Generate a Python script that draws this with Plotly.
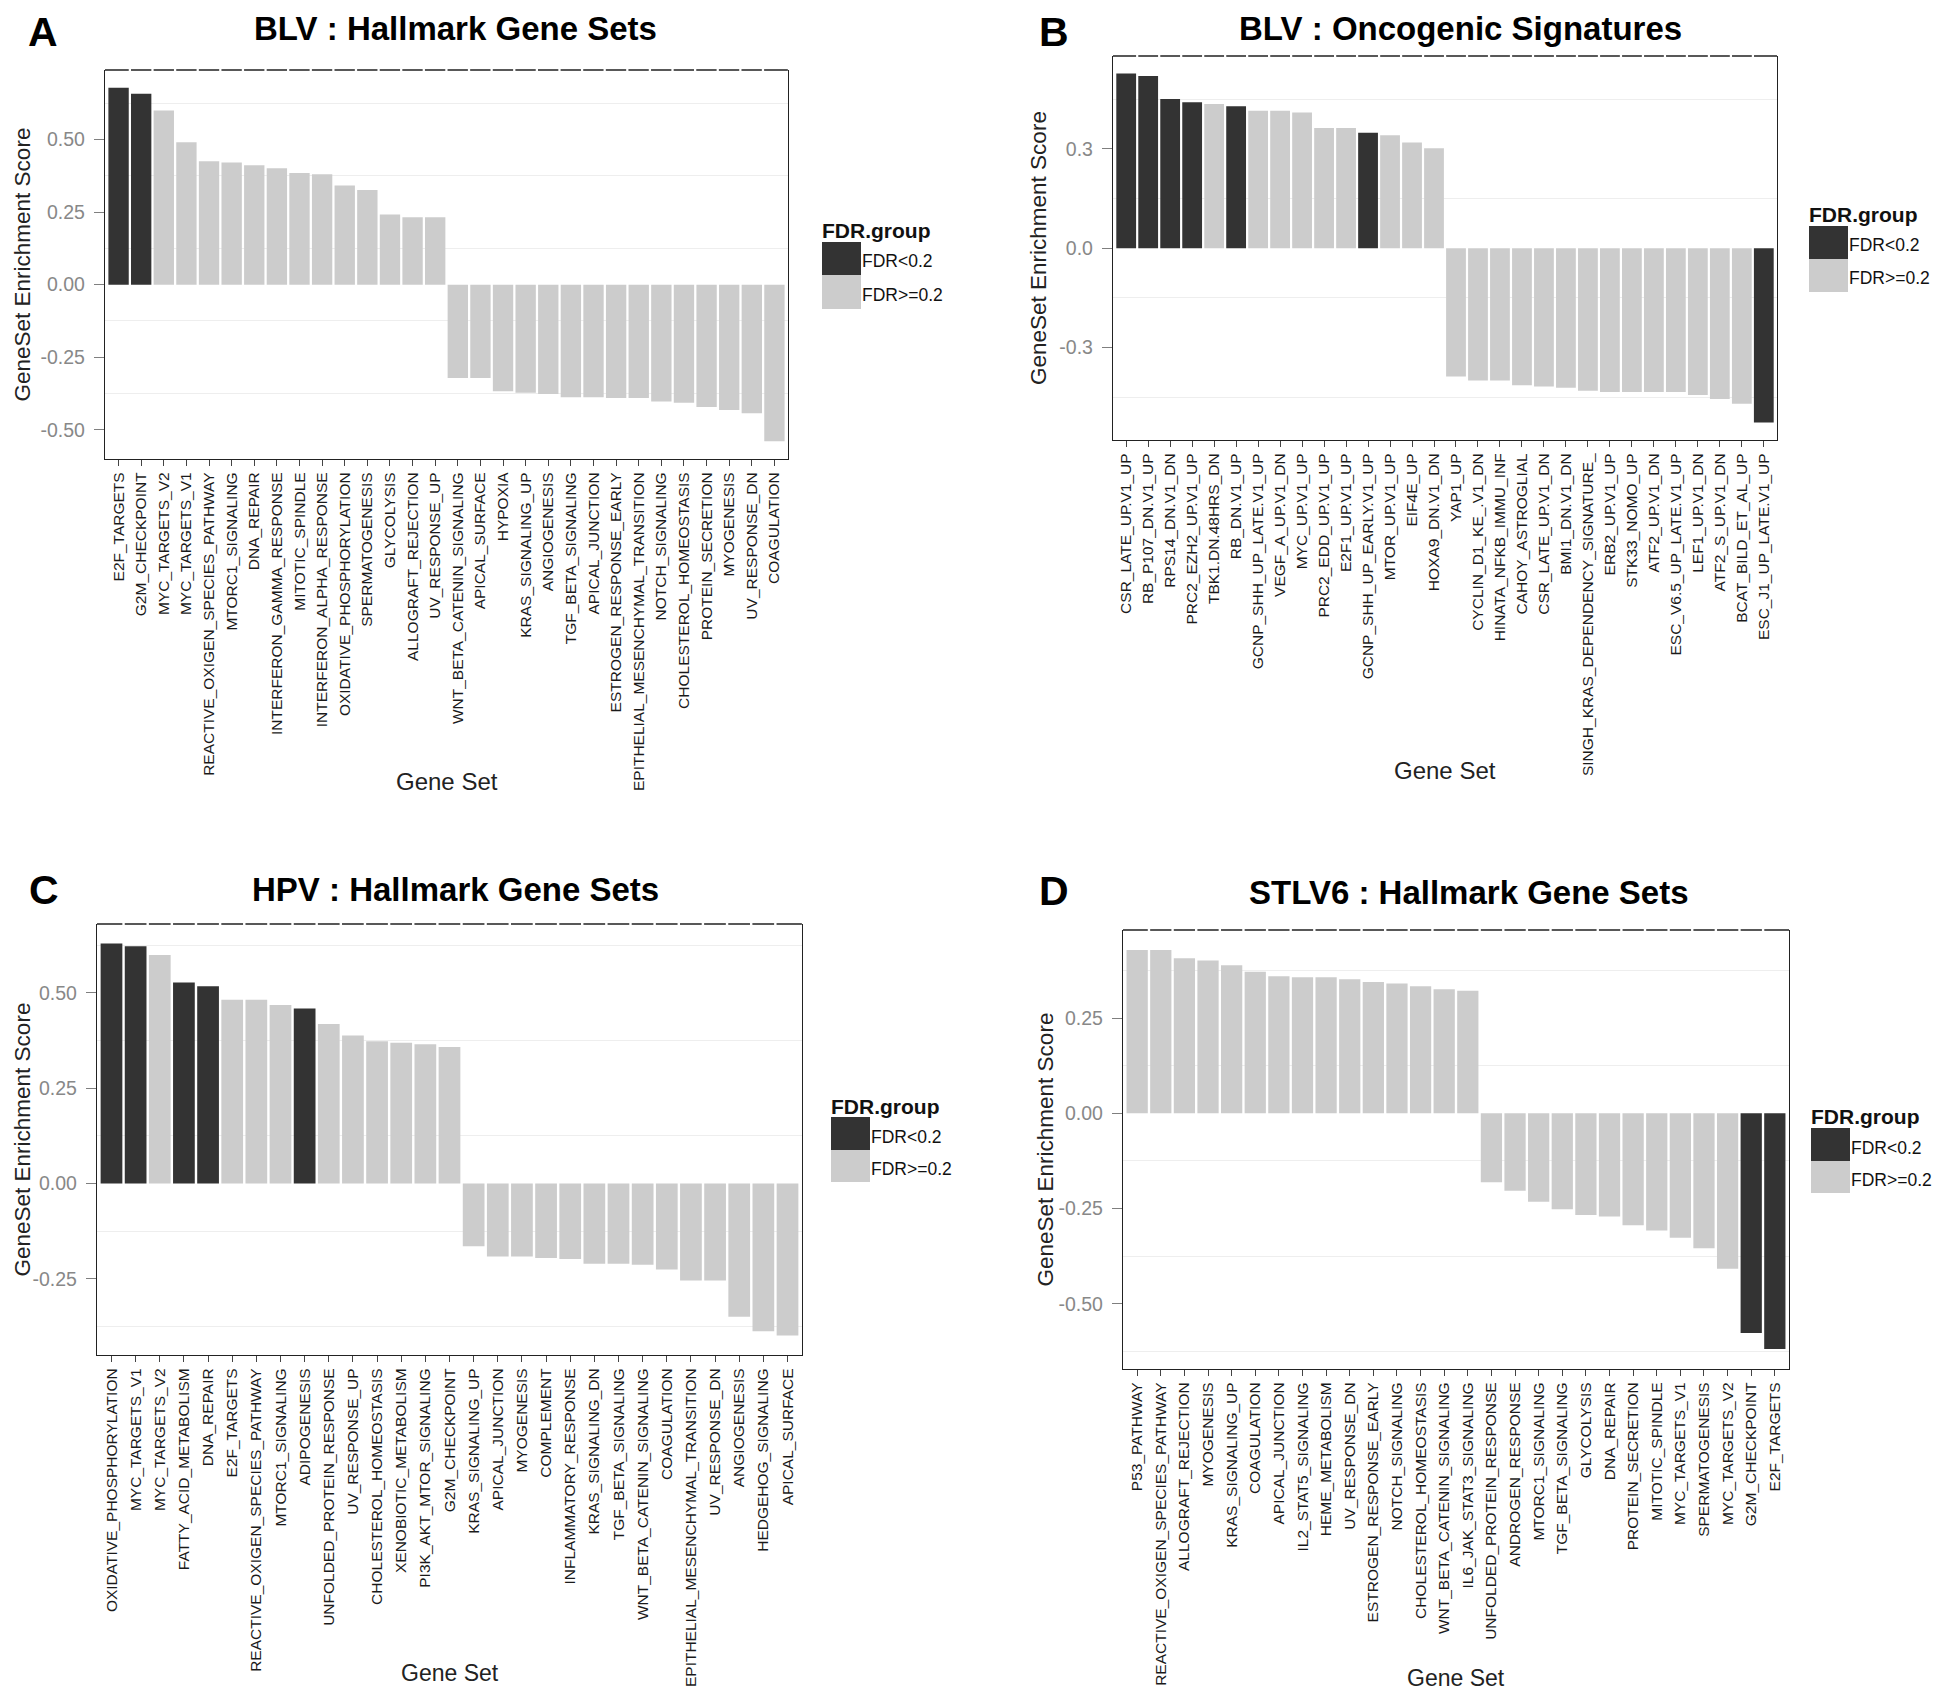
import plotly.graph_objects as go

# ---------------- DATA ----------------
A_names = ["E2F_TARGETS", "G2M_CHECKPOINT", "MYC_TARGETS_V2", "MYC_TARGETS_V1",
           "REACTIVE_OXIGEN_SPECIES_PATHWAY", "MTORC1_SIGNALING", "DNA_REPAIR",
           "INTERFERON_GAMMA_RESPONSE", "MITOTIC_SPINDLE", "INTERFERON_ALPHA_RESPONSE",
           "OXIDATIVE_PHOSPHORYLATION", "SPERMATOGENESIS", "GLYCOLYSIS",
           "ALLOGRAFT_REJECTION", "UV_RESPONSE_UP", "WNT_BETA_CATENIN_SIGNALING",
           "APICAL_SURFACE", "HYPOXIA", "KRAS_SIGNALING_UP", "ANGIOGENESIS",
           "TGF_BETA_SIGNALING", "APICAL_JUNCTION", "ESTROGEN_RESPONSE_EARLY",
           "EPITHELIAL_MESENCHYMAL_TRANSITION", "NOTCH_SIGNALING",
           "CHOLESTEROL_HOMEOSTASIS", "PROTEIN_SECRETION", "MYOGENESIS",
           "UV_RESPONSE_DN", "COAGULATION"]
A_vals = [0.679, 0.658, 0.600, 0.491, 0.425, 0.421, 0.412, 0.401, 0.385, 0.381,
          0.342, 0.326, 0.242, 0.232, 0.232, -0.322, -0.322, -0.367, -0.373, -0.377,
          -0.388, -0.388, -0.391, -0.391, -0.403, -0.407, -0.422, -0.432, -0.443, -0.540]
A_sig = [1, 1] + [0] * 28

B_names = ["CSR_LATE_UP.V1_UP", "RB_P107_DN.V1_UP", "RPS14_DN.V1_DN", "PRC2_EZH2_UP.V1_UP",
           "TBK1.DN.48HRS_DN", "RB_DN.V1_UP", "GCNP_SHH_UP_LATE.V1_UP", "VEGF_A_UP.V1_DN",
           "MYC_UP.V1_UP", "PRC2_EDD_UP.V1_UP", "E2F1_UP.V1_UP", "GCNP_SHH_UP_EARLY.V1_UP",
           "MTOR_UP.V1_UP", "EIF4E_UP", "HOXA9_DN.V1_DN", "YAP1_UP", "CYCLIN_D1_KE_.V1_DN",
           "HINATA_NFKB_IMMU_INF", "CAHOY_ASTROGLIAL", "CSR_LATE_UP.V1_DN", "BMI1_DN.V1_DN",
           "SINGH_KRAS_DEPENDENCY_SIGNATURE_", "ERB2_UP.V1_UP", "STK33_NOMO_UP",
           "ATF2_UP.V1_DN", "ESC_V6.5_UP_LATE.V1_UP", "LEF1_UP.V1_DN", "ATF2_S_UP.V1_DN",
           "BCAT_BILD_ET_AL_UP", "ESC_J1_UP_LATE.V1_UP"]
B_vals = [0.528, 0.520, 0.451, 0.441, 0.436, 0.429, 0.415, 0.415, 0.410, 0.363,
          0.363, 0.349, 0.341, 0.319, 0.302, -0.388, -0.400, -0.400, -0.414, -0.418,
          -0.422, -0.431, -0.435, -0.435, -0.435, -0.435, -0.444, -0.456, -0.470, -0.527]
B_sig = [1, 1, 1, 1, 0, 1, 0, 0, 0, 0, 0, 1, 0, 0, 0,
         0, 0, 0, 0, 0, 0, 0, 0, 0, 0, 0, 0, 0, 0, 1]

C_names = ["OXIDATIVE_PHOSPHORYLATION", "MYC_TARGETS_V1", "MYC_TARGETS_V2",
           "FATTY_ACID_METABOLISM", "DNA_REPAIR", "E2F_TARGETS",
           "REACTIVE_OXIGEN_SPECIES_PATHWAY", "MTORC1_SIGNALING", "ADIPOGENESIS",
           "UNFOLDED_PROTEIN_RESPONSE", "UV_RESPONSE_UP", "CHOLESTEROL_HOMEOSTASIS",
           "XENOBIOTIC_METABOLISM", "PI3K_AKT_MTOR_SIGNALING", "G2M_CHECKPOINT",
           "KRAS_SIGNALING_UP", "APICAL_JUNCTION", "MYOGENESIS", "COMPLEMENT",
           "INFLAMMATORY_RESPONSE", "KRAS_SIGNALING_DN", "TGF_BETA_SIGNALING",
           "WNT_BETA_CATENIN_SIGNALING", "COAGULATION", "EPITHELIAL_MESENCHYMAL_TRANSITION",
           "UV_RESPONSE_DN", "ANGIOGENESIS", "HEDGEHOG_SIGNALING", "APICAL_SURFACE"]
C_vals = [0.629, 0.622, 0.599, 0.527, 0.517, 0.482, 0.482, 0.468, 0.459, 0.418,
          0.388, 0.373, 0.369, 0.365, 0.358, -0.164, -0.191, -0.191, -0.195, -0.198,
          -0.210, -0.210, -0.213, -0.225, -0.254, -0.254, -0.349, -0.387, -0.398]
C_sig = [1, 1, 0, 1, 1, 0, 0, 0, 1] + [0] * 20

D_names = ["P53_PATHWAY", "REACTIVE_OXIGEN_SPECIES_PATHWAY", "ALLOGRAFT_REJECTION",
           "MYOGENESIS", "KRAS_SIGNALING_UP", "COAGULATION", "APICAL_JUNCTION",
           "IL2_STAT5_SIGNALING", "HEME_METABOLISM", "UV_RESPONSE_DN",
           "ESTROGEN_RESPONSE_EARLY", "NOTCH_SIGNALING", "CHOLESTEROL_HOMEOSTASIS",
           "WNT_BETA_CATENIN_SIGNALING", "IL6_JAK_STAT3_SIGNALING",
           "UNFOLDED_PROTEIN_RESPONSE", "ANDROGEN_RESPONSE", "MTORC1_SIGNALING",
           "TGF_BETA_SIGNALING", "GLYCOLYSIS", "DNA_REPAIR", "PROTEIN_SECRETION",
           "MITOTIC_SPINDLE", "MYC_TARGETS_V1", "SPERMATOGENESIS", "MYC_TARGETS_V2",
           "G2M_CHECKPOINT", "E2F_TARGETS"]
D_vals = [0.429, 0.429, 0.407, 0.401, 0.389, 0.372, 0.360, 0.357, 0.357, 0.352,
          0.345, 0.341, 0.334, 0.326, 0.322, -0.181, -0.203, -0.232, -0.252, -0.267,
          -0.271, -0.294, -0.308, -0.327, -0.354, -0.408, -0.577, -0.619]
D_sig = [0] * 26 + [1, 1]

A_ticks = [0.50, 0.25, 0.00, -0.25, -0.50]
A_ticktext = ["0.50", "0.25", "0.00", "-0.25", "-0.50"]
B_ticks = [0.3, 0.0, -0.3]
B_ticktext = ["0.3", "0.0", "-0.3"]
C_ticks = [0.50, 0.25, 0.00, -0.25]
C_ticktext = ["0.50", "0.25", "0.00", "-0.25"]
D_ticks = [0.25, 0.00, -0.25, -0.50]
D_ticktext = ["0.25", "0.00", "-0.25", "-0.50"]

A_title = "BLV : Hallmark Gene Sets"
B_title = "BLV : Oncogenic Signatures"
C_title = "HPV : Hallmark Gene Sets"
D_title = "STLV6 : Hallmark Gene Sets"

legend_title = "FDR.group"
legend_labels = ["FDR<0.2", "FDR>=0.2"]
x_title = "Gene Set"
y_title = "GeneSet Enrichment Score"

# ---------------- STYLE ----------------
W, H = 1943, 1688
DARK = "#333333"
LIGHT = "#cccccc"
SANS = "Liberation Sans, Arial, sans-serif"

panels = [
    dict(letter="A", names=A_names, vals=A_vals, sig=A_sig, title=A_title,
         ticks=A_ticks, ticktext=A_ticktext, box=(97, 780, 62, 451),
         title_top=0, title_x=447, letter_x=35, letter_y=None, ytitle_x=14,
         xtitle_y=774, xtitle_shift=0, leg=(814, 222, 234, 267, 301)),
    dict(letter="B", names=B_names, vals=B_vals, sig=B_sig, title=B_title,
         ticks=B_ticks, ticktext=B_ticktext, box=(1105, 1769, 48, 432),
         title_top=0, title_x=1452, letter_x=1046, letter_y=None, ytitle_x=1030,
         xtitle_y=762, xtitle_shift=0, leg=(1801, 206, 218, 251, 284)),
    dict(letter="C", names=C_names, vals=C_vals, sig=C_sig, title=C_title,
         ticks=C_ticks, ticktext=C_ticktext, box=(89, 794, 916, 1347),
         title_top=861, title_x=447, letter_x=36, letter_y=882, ytitle_x=14,
         xtitle_y=None, xtitle_shift=8, leg=(823, 1098, 1109, 1142, 1174)),
    dict(letter="D", names=D_names, vals=D_vals, sig=D_sig, title=D_title,
         ticks=D_ticks, ticktext=D_ticktext, box=(1115, 1781, 922, 1361),
         title_top=864, title_x=1461, letter_x=1046, letter_y=883, ytitle_x=1037,
         xtitle_y=None, xtitle_shift=3, leg=(1803, 1108, 1120, 1153, 1185)),
]

fig = go.Figure()
annotations = []
shapes = []
layout_axes = {}


def px_x(x):
    return x / W


def px_y(y):
    return 1 - y / H


for i, p in enumerate(panels):
    k = "" if i == 0 else str(i + 1)
    xa, ya = "x" + k, "y" + k
    n = len(p["names"])
    x0, x1, y0, y1 = p["box"]
    colors = [DARK if s else LIGHT for s in p["sig"]]
    fig.add_trace(go.Bar(x=p["names"], y=p["vals"], marker=dict(color=colors, line=dict(width=0)),
                         xaxis=xa, yaxis=ya, showlegend=False, width=0.9))
    vmin, vmax = min(p["vals"]), max(p["vals"])
    span = vmax - vmin
    step = p["ticks"][0] - p["ticks"][1]
    grid = [t + step / 2 for t in p["ticks"]] + [p["ticks"][-1] - step / 2]
    layout_axes["xaxis" + k] = dict(
        domain=[px_x(x0), px_x(x1)], anchor=ya, type="category",
        categoryorder="array", categoryarray=p["names"],
        range=[-0.6, n - 0.4], showgrid=False, zeroline=False,
        showline=True, linecolor="#222222", linewidth=1.3,
        ticks="outside", ticklen=6, tickcolor="#444444", tickwidth=1,
        tickangle=-90, tickfont=dict(family=SANS, size=15.5, color="#1a1a1a"),
        fixedrange=True)
    layout_axes["yaxis" + k] = dict(
        domain=[px_y(y1), px_y(y0)], anchor=xa,
        range=[vmin - 0.05 * span, vmax + 0.05 * span],
        tickmode="array", tickvals=p["ticks"], ticktext=p["ticktext"],
        showgrid=False, zeroline=False,
        showline=True, mirror=True, linecolor="#222222", linewidth=1.3,
        ticks="outside", ticklen=10, tickcolor="#7f7f7f", tickwidth=1.2,
        ticklabelstandoff=5,
        tickfont=dict(family=SANS, size=19.5, color="#888888"),
        minor=dict(tickmode="array", tickvals=grid, showgrid=True,
                   gridcolor="#eeeeee", gridwidth=1, ticks=""),
        fixedrange=True)

    # dashed top border (gaps between bar slots)
    slot = (x1 - x0) / (n + 0.2)
    pattern = [1.05 * slot] + [0.1 * slot, 0.9 * slot] * (n - 2) + [0.1 * slot, 1.05 * slot]
    dash = ",".join(f"{v:.2f}px" for v in pattern)
    shapes.append(dict(type="line", xref=xa + " domain", yref=ya + " domain",
                       x0=0, x1=1, y0=1, y1=1, line=dict(color="#222222", width=1.6, dash=dash)))

    # panel title
    annotations.append(dict(text=p["title"], x=px_x(p["title_x"]), y=px_y(p["title_top"]),
                            xref="paper", yref="paper", showarrow=False,
                            xanchor="center", yanchor="top",
                            font=dict(family=SANS, size=33, color="#000000", weight=700)))
    # panel letter
    if p["letter_y"] is None:
        annotations.append(dict(text=p["letter"], x=px_x(p["letter_x"]), y=1,
                                xref="paper", yref="paper", showarrow=False,
                                xanchor="center", yanchor="top", borderpad=0,
                                font=dict(family=SANS, size=41, color="#000000", weight=700)))
    else:
        annotations.append(dict(text=p["letter"], x=px_x(p["letter_x"]), y=px_y(p["letter_y"]),
                                xref="paper", yref="paper", showarrow=False,
                                xanchor="center", yanchor="middle",
                                font=dict(family=SANS, size=41, color="#000000", weight=700)))
    # axis titles
    annotations.append(dict(text=y_title, x=px_x(p["ytitle_x"]), y=px_y((y0 + y1) / 2),
                            xref="paper", yref="paper", showarrow=False, textangle=-90,
                            xanchor="center", yanchor="middle",
                            font=dict(family=SANS, size=22.5, color="#222222")))
    if p["xtitle_y"] is not None:
        annotations.append(dict(text=x_title, x=px_x((x0 + x1) / 2), y=px_y(p["xtitle_y"]),
                                xref="paper", yref="paper", showarrow=False,
                                xanchor="center", yanchor="middle",
                                font=dict(family=SANS, size=24, color="#222222")))
    else:
        annotations.append(dict(text=x_title, x=px_x((x0 + x1) / 2), y=0,
                                xref="paper", yref="paper", showarrow=False,
                                xanchor="center", yanchor="bottom", yshift=p["xtitle_shift"],
                                font=dict(family=SANS, size=23, color="#222222")))

    # legend (drawn manually, ggplot-style stacked keys)
    lx, lty, b0, b1, b2 = p["leg"]
    bw = 39
    annotations.append(dict(text=legend_title, x=px_x(lx - 2), y=px_y(lty),
                            xref="paper", yref="paper", showarrow=False,
                            xanchor="left", yanchor="middle",
                            font=dict(family=SANS, size=21, color="#111111", weight=700)))
    for (ya0, ya1, col, lab) in [(b0, b1, DARK, legend_labels[0]), (b1, b2, LIGHT, legend_labels[1])]:
        shapes.append(dict(type="rect", xref="paper", yref="paper",
                           x0=px_x(lx), x1=px_x(lx + bw), y0=px_y(ya1), y1=px_y(ya0),
                           fillcolor=col, line=dict(width=0)))
        annotations.append(dict(text=lab, x=px_x(lx + bw), y=px_y((ya0 + ya1) / 2 + 3),
                                xref="paper", yref="paper", showarrow=False,
                                xanchor="left", yanchor="middle", borderpad=0,
                                font=dict(family=SANS, size=17.5, color="#111111")))

fig.update_layout(
    width=W, height=H, margin=dict(l=0, r=0, t=0, b=0),
    paper_bgcolor="white", plot_bgcolor="white",
    bargap=0.1, showlegend=False,
    annotations=annotations, shapes=shapes,
    **layout_axes)

fig.write_html("out.html")
